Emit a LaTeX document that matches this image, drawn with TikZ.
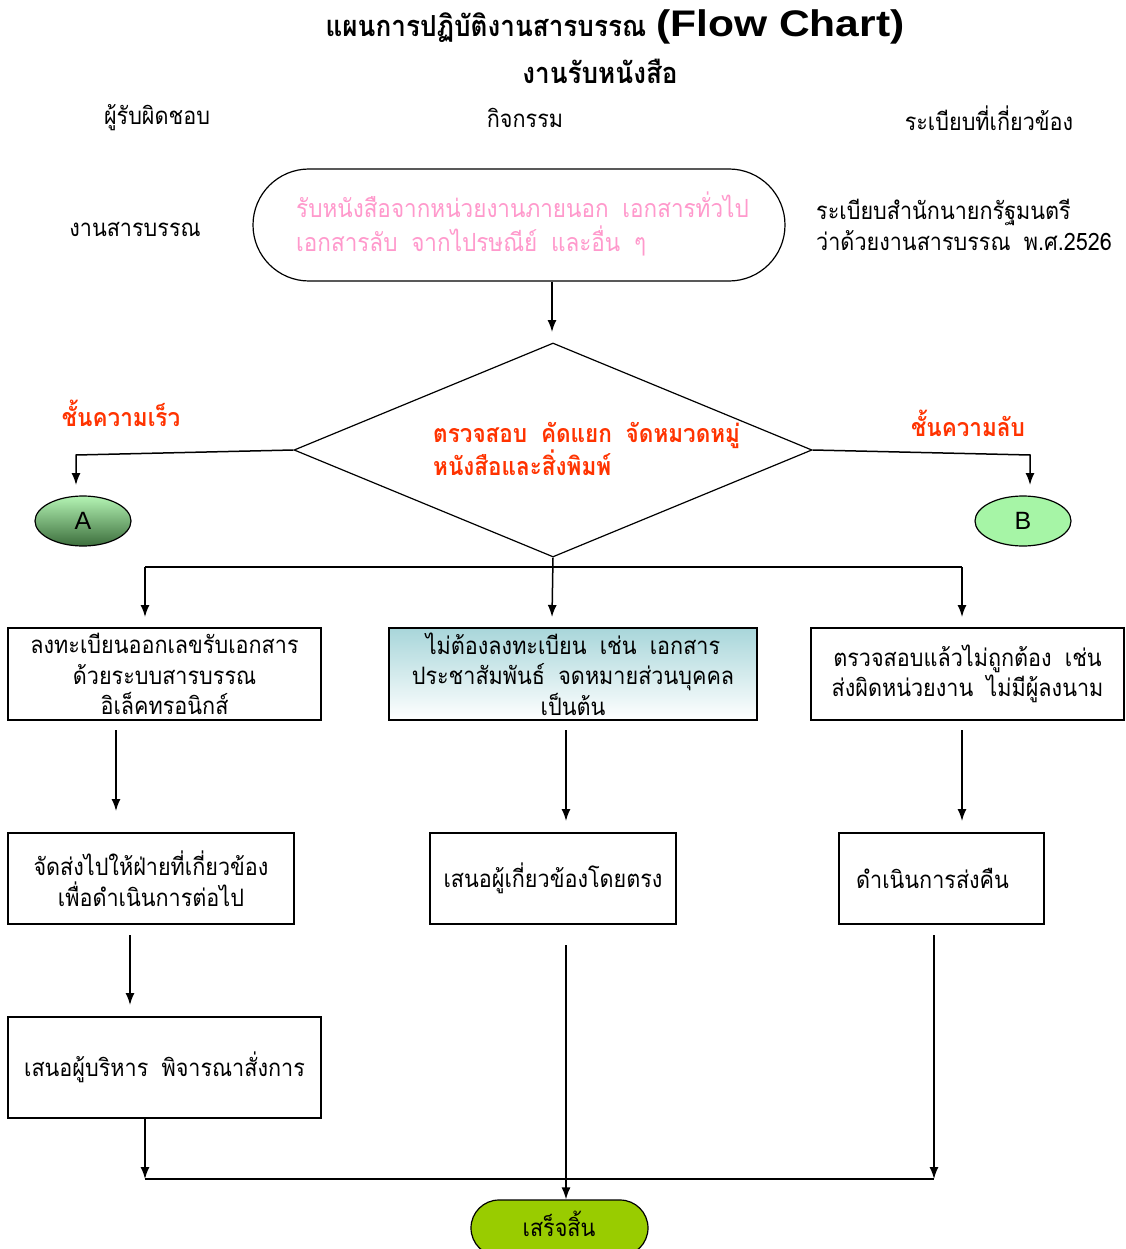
\documentclass[tikz,border=0pt]{standalone}
\usepackage{fontspec}
\setmainfont{Liberation Sans}
\newfontfamily\thai[Script=Thai,FakeStretch=0.9]{Loma}
\newfontfamily\widesans[FakeStretch=1.15]{Liberation Sans}
\newcommand\gp{\hspace{0.55em}}
\usetikzlibrary{arrows.meta,shapes.geometric,calc}
\definecolor{pinktxt}{HTML}{FF99CC}
\definecolor{redtxt}{HTML}{FF3300}
\definecolor{endfill}{HTML}{99CC00}
\definecolor{bfill}{HTML}{A6F5A6}
\definecolor{agtop}{HTML}{B4F4B4}
\definecolor{agbot}{HTML}{3C6E3C}
\definecolor{tealtop}{HTML}{A8D6DA}
\begin{document}
\begin{tikzpicture}[x=1pt,y=-1pt,
  body/.style={font=\thai\fontsize{24}{30.5}\selectfont, inner sep=0pt},
  box/.style={draw, line width=1.2pt, inner sep=0pt, outer sep=0pt, align=center,
     font=\thai\fontsize{24}{30.5}\selectfont},
  arr/.style={line width=1.5pt, -{Latex[length=12pt,width=9pt]}},
  ln/.style={line width=1.5pt},
  redlbl/.style={font=\thai\bfseries\fontsize{25}{30}\selectfont, text=redtxt, inner sep=0pt}]
\useasboundingbox (0,0) rectangle (1125,1249);
\fill[white] (0,0) rectangle (1125,1249);

% titles
\node[inner sep=0pt] (title) at (615,27) {{\thai\bfseries\fontsize{29}{32}\selectfont แผนการปฏิบัติงานสารบรรณ}\hspace{10pt}{\widesans\bfseries\fontsize{37}{38}\selectfont (Flow Chart)}};
\node[inner sep=0pt, font=\thai\bfseries\fontsize{29}{32}\selectfont] (sub) at (600,71) {งานรับหนังสือ};

% headers
\node[body] (h1) at (157,118) {ผู้รับผิดชอบ};
\node[body] (h2) at (525,118) {กิจกรรม};
\node[body] (h3) at (989,118) {ระเบียบที่เกี่ยวข้อง};
\node[body] (resp) at (135,229) {งานสารบรรณ};
\node[body, anchor=west, align=left] (reg) at (816,225) {ระเบียบสำนักนายกรัฐมนตรี\\ว่าด้วยงานสารบรรณ\gp พ.ศ.2526};

% start
\node[draw, line width=1.2pt, rounded corners=56pt, minimum width=532pt, minimum height=112pt,
      inner sep=0pt] (start) at (519,225) {};
\node[body, text=pinktxt, align=left, font=\thai\fontsize{25}{34}\selectfont, anchor=west] (stxt) at (296,224)
  {รับหนังสือจากหน่วยงานภายนอก\gp เอกสารทั่วไป\\เอกสารลับ\gp จากไปรษณีย์\gp และอื่น\gp ๆ};

% decision
\node[draw, line width=1.2pt, diamond, inner sep=0pt, minimum width=518pt, minimum height=214pt, aspect=2.42] (dia) at (553,450) {};
\node[redlbl, align=left, anchor=west] (dtxt) at (433,449) {ตรวจสอบ\gp คัดแยก\gp จัดหมวดหมู่\\หนังสือและสิ่งพิมพ์};
\node[redlbl] (fast) at (121,413) {ชั้นความเร็ว};
\node[redlbl] (secret) at (968,423) {ชั้นความลับ};

% connectors A / B
\node[draw, line width=1.2pt, ellipse, minimum width=96pt, minimum height=50pt, inner sep=0pt,
      top color=agtop, bottom color=agbot, font=\fontsize{25}{25}\selectfont] (A) at (83,521) {A};
\node[draw, line width=1.2pt, ellipse, minimum width=96pt, minimum height=50pt, inner sep=0pt,
      fill=bfill, font=\fontsize{25}{25}\selectfont] (B) at (1023,521) {B};

% boxes
\node[box, minimum width=313pt, minimum height=92pt] (b1) at (164.5,674) {ลงทะเบียนออกเลขรับเอกสาร\\ด้วยระบบสารบรรณ\\อิเล็คทรอนิกส์};
\node[box, minimum width=368pt, minimum height=92pt, top color=tealtop, bottom color=white] (b2) at (573,674) {ไม่ต้องลงทะเบียน\gp เช่น\gp เอกสาร\\ประชาสัมพันธ์\gp จดหมายส่วนบุคคล\\เป็นต้น};
\node[box, minimum width=313pt, minimum height=92pt] (b3) at (967.5,674) {ตรวจสอบแล้วไม่ถูกต้อง\gp เช่น\\ส่งผิดหน่วยงาน\gp ไม่มีผู้ลงนาม};
\node[box, minimum width=286pt, minimum height=91pt] (b4) at (151,878.5) {จัดส่งไปให้ฝ่ายที่เกี่ยวข้อง\\เพื่อดำเนินการต่อไป};
\node[box, minimum width=246pt, minimum height=91pt] (b5) at (553,878.5) {เสนอผู้เกี่ยวข้องโดยตรง};
\node[box, minimum width=205pt, minimum height=91pt] (b6) at (941.5,878.5) {ดำเนินการส่งคืน\hspace{18pt}};
\node[box, minimum width=313pt, minimum height=101pt] (b7) at (164.5,1067.5) {เสนอผู้บริหาร\gp พิจารณาสั่งการ};
\node[draw, line width=1.2pt, rounded corners=28pt, minimum width=177pt, minimum height=56pt,
      inner sep=0pt, fill=endfill] (end) at (559.5,1228) {};
\node[body] (endtxt) at (559,1224) {เสร็จสิ้น};

% arrows
\coordinate (c1) at (552,332);
\draw[arr] (start.south -| c1) -- (c1);
\coordinate (la) at (76,455);
\coordinate (lb) at (76,485);
\draw[arr] (dia.west) -- (la) -- (lb);
\coordinate (ra) at (1030,455);
\coordinate (rb) at (1030,485);
\draw[arr] (dia.east) -- (ra) -- (rb);

\coordinate (hl) at (145,567);
\coordinate (hr) at (962,567);
\coordinate (m1) at (552,617);
\draw[ln] (hl) -- (hr);
\draw[arr] (dia.south) -- (m1);
\draw[arr] (hl) -- (145,617);
\draw[arr] (hr) -- (962,617);

\draw[arr] (116,730) -- (116,811);
\draw[arr] (566,730) -- (566,821);
\draw[arr] (962,730) -- (962,821);
\draw[arr] (130,935) -- (130,1005);

\coordinate (jl) at (145,1179);
\coordinate (jr) at (934,1179);
\draw[arr] (b7.south -| jl) -- (jl);
\draw[ln] (jl) -- (jr);
\draw[arr] (934,935) -- (jr);
\coordinate (ev) at (566,945);
\draw[arr] (ev) -- (end.north -| ev);
\end{tikzpicture}
\end{document}
